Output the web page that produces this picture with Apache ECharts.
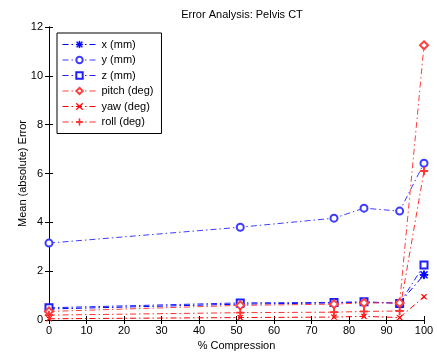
<!DOCTYPE html>
<html>
<head>
<meta charset="utf-8">
<script src="https://cdn.jsdelivr.net/npm/echarts@6/dist/echarts.min.js"></script>
<style>
  html, body { margin: 0; padding: 0; background: #fff; }
  #chart { width: 437px; height: 352px; }
</style>
</head>
<body>
<div id="chart"></div>
<script>
// % compression levels
const compression = [0, 51, 76, 84, 93.5, 100];

// mean absolute error per parameter
const xMm = [0.45, 0.65, 0.7, 0.72, 0.7, 1.85];
const yMm = [3.15, 3.8, 4.17, 4.58, 4.46, 6.42];
const zMm = [0.5, 0.7, 0.72, 0.75, 0.68, 2.25];
const pitchDeg = [0.35, 0.6, 0.65, 0.7, 0.7, 11.25];
const yawDeg = [0.05, 0.1, 0.12, 0.15, 0.1, 0.95];
const rollDeg = [0.2, 0.3, 0.32, 0.35, 0.37, 6.1];

const xTicks = [0, 10, 20, 30, 40, 50, 60, 70, 80, 90, 100];
const yTicks = [0, 2, 4, 6, 8, 10, 12];

const plusPath = 'path://M4.5,0h1v10h-1z M0,4.5h10v1h-10z';
const crossPath = 'path://M0.7,0L10,9.3L9.3,10L0,0.7z M9.3,0L10,0.7L0.7,10L0,9.3z';
const starPath = 'path://M4.5,0h1v10h-1z M0,4.5h10v1h-10z M1.3,0.6L9.4,8.7L8.7,9.4L0.6,1.3z M8.7,0.6L9.4,1.3L1.3,9.4L0.6,8.7z';

const dashDot = [6, 3, 1.5, 3];

const chart = echarts.init(document.getElementById('chart'));

function makeSeries(name, values, color, symbol, size) {
  return {
    name,
    type: 'line',
    data: compression.map((c, i) => [c, values[i]]),
    symbol,
    symbolSize: size,
    showAllSymbol: true,
    lineStyle: { color, width: 1, type: dashDot },
    itemStyle: { color, borderColor: color, borderWidth: 1 },
    emphasis: { disabled: true },
    animation: false,
    z: 3
  };
}

const font = 'Liberation Sans, Arial, sans-serif';

const tickAxisCommon = {
  axisLine: { show: true, lineStyle: { color: '#000', width: 1 } },
  axisTick: { show: true, inside: true, length: 4, lineStyle: { color: '#000' } },
  splitLine: { show: false }
};

chart.setOption({
  backgroundColor: '#fff',
  animation: false,
  title: {
    text: 'Error Analysis: Pelvis CT',
    left: 237,
    textAlign: 'center',
    top: 4,
    textStyle: { fontFamily: font, fontSize: 11, fontWeight: 'normal', color: '#000' }
  },
  grid: { left: 49, right: 13, top: 27, bottom: 32, show: false, outerBoundsMode: 'none', containLabel: false },
  legend: {
    orient: 'vertical',
    left: 57,
    top: 33,
    itemWidth: 34,
    itemHeight: 8,
    itemGap: 4.5,
    padding: [6, 8, 6, 5],
    backgroundColor: '#fff',
    borderColor: '#000',
    borderWidth: 1,
    borderRadius: 0,
    lineStyle: { width: 1 },
    itemStyle: { borderWidth: 1 },
    textStyle: { fontFamily: font, fontSize: 11, color: '#000', padding: [0, 0, 0, 0] },
    data: ['x (mm)', 'y (mm)', 'z (mm)', 'pitch (deg)', 'yaw (deg)', 'roll (deg)']
  },
  xAxis: [
    Object.assign({}, tickAxisCommon, {
      type: 'value',
      min: 0,
      max: 100,
      interval: 10,
      name: '% Compression',
      nameLocation: 'middle',
      nameGap: 20,
      nameMoveOverlap: false,
      nameTextStyle: { fontFamily: font, fontSize: 11, color: '#000' },
      axisLabel: {
        fontFamily: font, fontSize: 11, color: '#000', margin: 5,
        customValues: xTicks
      }
    }),
    Object.assign({}, tickAxisCommon, {
      type: 'value',
      position: 'top',
      min: 0,
      max: 100,
      interval: 10,
      axisLabel: { show: false }
    })
  ],
  yAxis: [
    Object.assign({}, tickAxisCommon, {
      type: 'value',
      min: 0,
      max: 12,
      interval: 2,
      name: 'Mean (absolute) Error',
      nameLocation: 'middle',
      nameGap: 21,
      nameMoveOverlap: false,
      nameTextStyle: { fontFamily: font, fontSize: 11, color: '#000' },
      axisLabel: {
        fontFamily: font, fontSize: 11, color: '#000', margin: 6,
        customValues: yTicks
      }
    }),
    Object.assign({}, tickAxisCommon, {
      type: 'value',
      position: 'right',
      min: 0,
      max: 12,
      interval: 2,
      axisLabel: { show: false }
    })
  ],
  series: [
    makeSeries('x (mm)', xMm, '#0000ff', starPath, 8),
    makeSeries('y (mm)', yMm, '#3c3cff', 'emptyCircle', 7),
    makeSeries('z (mm)', zMm, '#1e1eff', 'emptyRect', 7),
    makeSeries('pitch (deg)', pitchDeg, '#ff4040', 'emptyDiamond', 8),
    makeSeries('yaw (deg)', yawDeg, '#ff0000', crossPath, 5),
    makeSeries('roll (deg)', rollDeg, '#ff3030', plusPath, 8)
  ]
});
</script>
</body>
</html>
